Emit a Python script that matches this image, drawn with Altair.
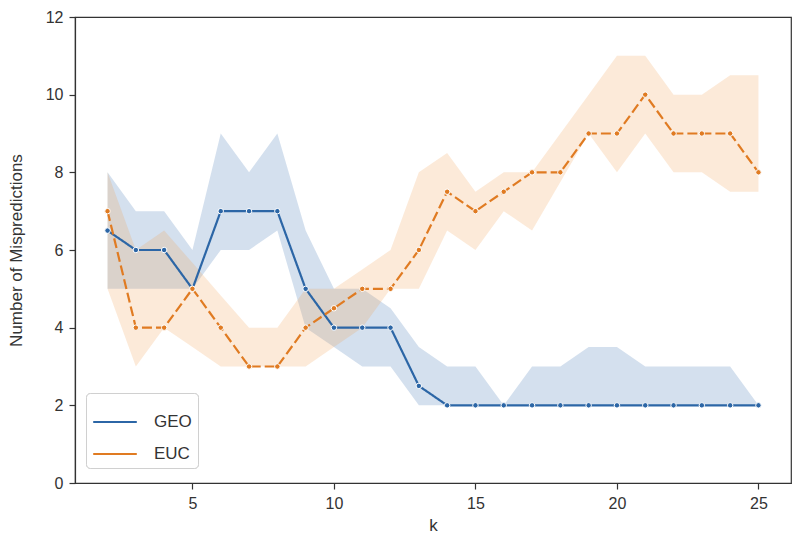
import altair as alt
import pandas as pd

k_values = list(range(2, 26))

geo_mean = [6.5, 6, 6, 5, 7, 7, 7, 5, 4, 4, 4, 2.5, 2, 2, 2, 2, 2, 2, 2, 2, 2, 2, 2, 2]
geo_lo = [5, 5, 5, 5, 6, 6, 6.5, 4, 3.5, 3, 3, 2, 2, 2, 2, 2, 2, 2, 2, 2, 2, 2, 2, 2]
geo_hi = [8, 7, 7, 6, 9, 8, 9, 6.5, 5, 5, 4.5, 3.5, 3, 3, 2, 3, 3, 3.5, 3.5, 3, 3, 3, 3, 2]

euc_mean = [7, 4, 4, 5, 4, 3, 3, 4, 4.5, 5, 5, 6, 7.5, 7, 7.5, 8, 8, 9, 9, 10, 9, 9, 9, 8]
euc_lo = [5, 3, 4, 3.5, 3, 3, 3, 3, 3.5, 4, 5, 5, 6.5, 6, 7, 6.5, 7.75, 9, 8, 9, 8, 8, 7.5, 7.5]
euc_hi = [8, 6, 6.5, 5.67, 4.83, 4, 4, 5, 5, 5.5, 6, 8, 8.5, 7.5, 8, 8, 9, 10, 11, 11, 10, 10, 10.5, 10.5]

series_names = ["GEO", "EUC"]
colors = ["#2c66a6", "#e07b22"]
band_colors = ["#3a74b0", "#f0a050"]

rows = []
for name, m, lo, hi in [("GEO", geo_mean, geo_lo, geo_hi), ("EUC", euc_mean, euc_lo, euc_hi)]:
    for k, a, b, c in zip(k_values, m, lo, hi):
        rows.append({"k": k, "series": name, "mean": a, "lo": b, "hi": c})
df = pd.DataFrame(rows)

x = alt.X("k:Q", title="k", scale=alt.Scale(domain=[0.85, 26.15], nice=False, zero=False),
          axis=alt.Axis(values=[5, 10, 15, 20, 25], format="d"))
y_scale = alt.Scale(domain=[0, 12], nice=False)

band = alt.Chart(df).mark_area(opacity=0.22).encode(
    x=x,
    y=alt.Y("lo:Q", scale=y_scale, title="Number of Mispredictions",
            axis=alt.Axis(values=[0, 2, 4, 6, 8, 10, 12])),
    y2="hi:Q",
    color=alt.Color("series:N", scale=alt.Scale(domain=series_names, range=band_colors), legend=None),
    detail="series:N",
)

line = alt.Chart(df).mark_line(strokeWidth=2.2).encode(
    x=x,
    y=alt.Y("mean:Q", scale=y_scale),
    color=alt.Color("series:N", scale=alt.Scale(domain=series_names, range=colors),
                    legend=alt.Legend(title=None)),
    strokeDash=alt.StrokeDash("series:N",
                              scale=alt.Scale(domain=series_names, range=[[1, 0], [10, 4]]),
                              legend=alt.Legend(title=None)),
)

points = alt.Chart(df).mark_point(filled=True, size=30, opacity=1, stroke="white", strokeWidth=1).encode(
    x=x,
    y=alt.Y("mean:Q", scale=y_scale),
    fill=alt.Fill("series:N", scale=alt.Scale(domain=series_names, range=colors), legend=None),
)

chart = alt.layer(band, line, points).resolve_scale(color="independent").properties(
    width=716,
    height=466,
    padding={"left": 67, "top": 9, "right": 1, "bottom": 53},
    autosize=alt.AutoSizeParams(type="none"),
).configure_view(
    stroke="#333333", strokeWidth=1.2
).configure_axis(
    labelFont="Liberation Sans", titleFont="Liberation Sans",
    labelFontSize=16, titleFontSize=17, labelColor="#333333", titleColor="#333333",
    titleFontWeight="normal", domainColor="#333333", tickColor="#333333",
    tickSize=6, tickWidth=1.2, domainWidth=1.2, grid=False, labelPadding=6,
).configure_axisY(titlePadding=20).configure_axisX(titlePadding=6).configure_legend(
    orient="none", legendX=11, legendY=376,
    fillColor="white", strokeColor="#d0d0d0", cornerRadius=4, padding=6,
    labelFont="Liberation Sans", labelFontSize=17, labelColor="#333333",
    symbolType="stroke", symbolSize=1900, symbolStrokeWidth=2.2, rowPadding=1,
    labelOffset=16,
)

chart.save("out.html", embed_options={"renderer": "svg", "actions": False})
